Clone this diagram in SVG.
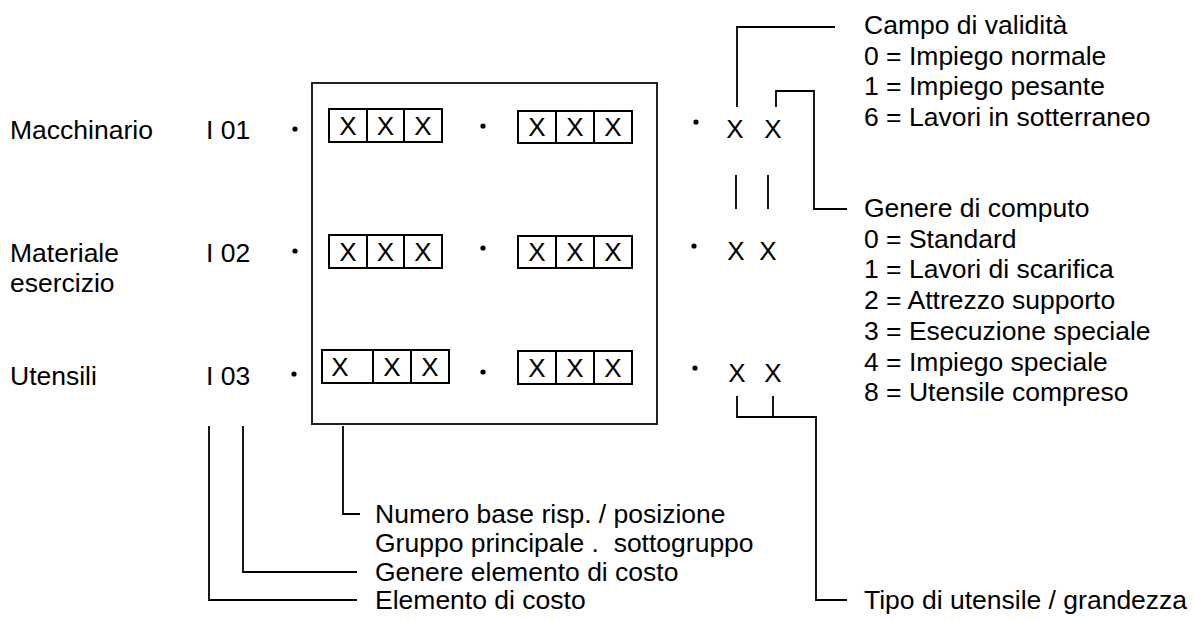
<svg xmlns="http://www.w3.org/2000/svg" width="1195" height="621" viewBox="0 0 1195 621">
<style>
text{font-family:"Liberation Sans",Arial,sans-serif;font-size:26.5px;fill:#000}
.x{text-anchor:middle;font-size:26px}
.box{fill:none;stroke:#000;stroke-width:2}
.frame{fill:none;stroke:#222;stroke-width:2}
.ln{fill:none;stroke:#000;stroke-width:1.8}
.dot{fill:#000}
</style>
<rect width="1195" height="621" fill="#fff"/>
<g id="frame"><rect class="frame" x="312" y="83" width="345" height="341"/></g>
<g id="row1">
<text x="10" y="139">Macchinario</text>
<text x="206" y="139">I 01</text>
<circle class="dot" cx="295" cy="129" r="2.6"/>
<g id="r1b1"><rect class="box" x="329" y="109" width="113" height="33"/><path class="box" d="M367 109V142M404 109V142"/>
<text class="x" x="348" y="135">X</text><text class="x" x="385.5" y="135">X</text><text class="x" x="423" y="135">X</text></g>
<circle class="dot" cx="483" cy="126" r="2.6"/>
<g id="r1b2"><rect class="box" x="518" y="111" width="114" height="32"/><path class="box" d="M556 111V143M594 111V143"/>
<text class="x" x="537" y="136">X</text><text class="x" x="575" y="136">X</text><text class="x" x="613" y="136">X</text></g>
<circle class="dot" cx="696" cy="122" r="2.6"/>
<text class="x" x="735" y="138">X</text><text class="x" x="773" y="138">X</text>
</g>
<g id="row2">
<text x="10" y="262">Materiale</text>
<text x="10" y="292">esercizio</text>
<text x="206" y="262">I 02</text>
<circle class="dot" cx="295" cy="251" r="2.6"/>
<g id="r2b1"><rect class="box" x="329" y="235" width="113" height="33"/><path class="box" d="M367 235V268M404 235V268"/>
<text class="x" x="348" y="261">X</text><text class="x" x="385.5" y="261">X</text><text class="x" x="423" y="261">X</text></g>
<circle class="dot" cx="483" cy="248" r="2.6"/>
<g id="r2b2"><rect class="box" x="518" y="236" width="114" height="32"/><path class="box" d="M556 236V268M594 236V268"/>
<text class="x" x="537" y="261">X</text><text class="x" x="575" y="261">X</text><text class="x" x="613" y="261">X</text></g>
<circle class="dot" cx="694" cy="246" r="2.6"/>
<text class="x" x="736" y="260">X</text><text class="x" x="768" y="260">X</text>
</g>
<g id="row3">
<text x="10" y="385">Utensili</text>
<text x="206" y="385">I 03</text>
<circle class="dot" cx="294" cy="374" r="2.6"/>
<g id="r3b1"><rect class="box" x="322" y="350" width="127" height="33"/><path class="box" d="M373 350V383M411 350V383"/>
<text class="x" x="340" y="376">X</text><text class="x" x="392" y="376">X</text><text class="x" x="430" y="376">X</text></g>
<circle class="dot" cx="483" cy="372" r="2.6"/>
<g id="r3b2"><rect class="box" x="518" y="351" width="114" height="33"/><path class="box" d="M556 351V384M594 351V384"/>
<text class="x" x="537" y="377">X</text><text class="x" x="575" y="377">X</text><text class="x" x="613" y="377">X</text></g>
<circle class="dot" cx="695" cy="368" r="2.6"/>
<text class="x" x="737" y="382">X</text><text class="x" x="773" y="382">X</text>
</g>
<g id="connectors">
<path class="ln" d="M737 107V27H835"/>
<path class="ln" d="M776 107V91H814V209H847"/>
<path class="ln" d="M736 175V209M768 175V209"/>
<path class="ln" d="M737 396V417H816V600H847M773 396V417"/>
<path class="ln" d="M343 426V514H360"/>
<path class="ln" d="M243 426V572H357"/>
<path class="ln" d="M209 426V600H357"/>
</g>
<g id="legend-campo">
<text x="864" y="34">Campo di validità</text>
<text x="864" y="64.5">0 = Impiego normale</text>
<text x="864" y="95">1 = Impiego pesante</text>
<text x="864" y="125.5">6 = Lavori in sotterraneo</text>
</g>
<g id="legend-genere">
<text x="864" y="217">Genere di computo</text>
<text x="864" y="247.7">0 = Standard</text>
<text x="864" y="278.4">1 = Lavori di scarifica</text>
<text x="864" y="309.1">2 = Attrezzo supporto</text>
<text x="864" y="339.8">3 = Esecuzione speciale</text>
<text x="864" y="370.5">4 = Impiego speciale</text>
<text x="864" y="401.2">8 = Utensile compreso</text>
</g>
<g id="legend-bottom">
<text x="375" y="523">Numero base risp. / posizione</text>
<text x="375" y="552">Gruppo principale . &#160;sottogruppo</text>
<text x="375" y="581">Genere elemento di costo</text>
<text x="375" y="609">Elemento di costo</text>
<text x="864" y="609">Tipo di utensile / grandezza</text>
</g>
</svg>
